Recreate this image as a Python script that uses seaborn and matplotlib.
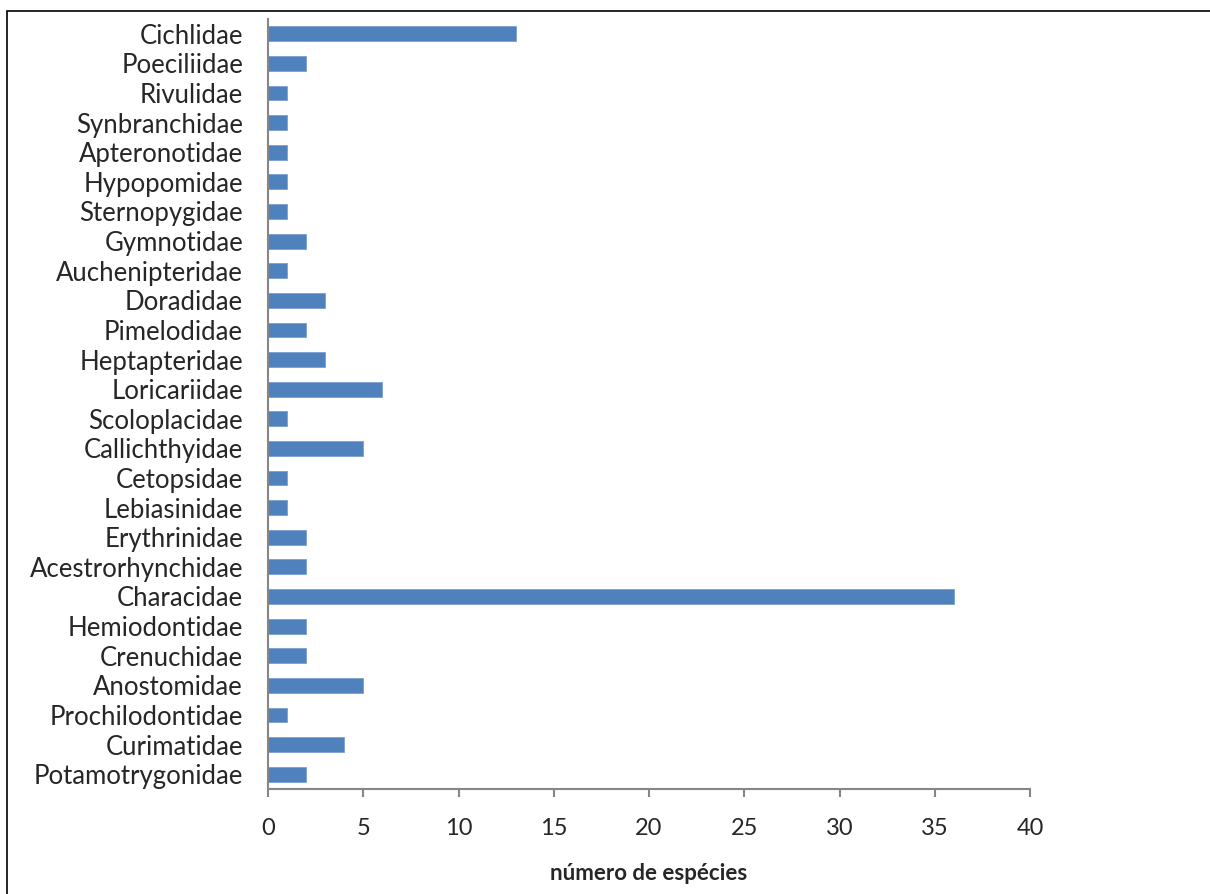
import matplotlib
matplotlib.use("Agg")
import matplotlib.pyplot as plt
import seaborn as sns
import pandas as pd
from matplotlib.patches import Rectangle

families = [
    "Cichlidae", "Poeciliidae", "Rivulidae", "Synbranchidae", "Apteronotidae",
    "Hypopomidae", "Sternopygidae", "Gymnotidae", "Auchenipteridae", "Doradidae",
    "Pimelodidae", "Heptapteridae", "Loricariidae", "Scoloplacidae", "Callichthyidae",
    "Cetopsidae", "Lebiasinidae", "Erythrinidae", "Acestrorhynchidae", "Characidae",
    "Hemiodontidae", "Crenuchidae", "Anostomidae", "Prochilodontidae", "Curimatidae",
    "Potamotrygonidae",
]
species_count = [13, 2, 1, 1, 1, 1, 1, 2, 1, 3, 2, 3, 6, 1, 5, 1, 1, 2, 2, 36,
                 2, 2, 5, 1, 4, 2]
x_ticks = [0, 5, 10, 15, 20, 25, 30, 35, 40]

df = pd.DataFrame({"familia": families, "especies": species_count})

sns.set_style("white")
plt.rcParams["font.family"] = ["Lato", "DejaVu Sans"]

fig = plt.figure(figsize=(12.1, 8.94), dpi=100)
ax = fig.add_axes([268 / 1210, 1 - 789 / 894, (1030 - 268) / 1210, (789 - 19) / 894])

sns.barplot(data=df, x="especies", y="familia", order=families, orient="h",
            color="#4F81BD", width=0.5, saturation=1, edgecolor="#7A9FD0",
            linewidth=0.6, ax=ax)

ax.set_xlim(0, 40)
ax.set_ylim(len(families) - 0.5, -0.5)
ax.set_xticks(x_ticks)
ax.set_xticklabels([str(t) for t in x_ticks], fontsize=17)
ax.tick_params(axis="x", direction="out", length=6, width=1.5, color="#868686",
               pad=15, bottom=True)
ax.tick_params(axis="y", length=0, pad=18, labelsize=18.5)
ax.set_ylabel("")
ax.set_xlabel("número de espécies", fontsize=16, fontweight="bold", labelpad=17)

for side in ["top", "right"]:
    ax.spines[side].set_visible(False)
for side in ["left", "bottom"]:
    ax.spines[side].set_color("#868686")
    ax.spines[side].set_linewidth(1.5)

# outer chart frame
fig.patches.append(Rectangle((7 / 1210, -0.05), 1.2, 1 - 11 / 894 + 0.05,
                             transform=fig.transFigure, fill=False,
                             edgecolor="black", linewidth=1.2))

fig.savefig("out.png", dpi=100)
